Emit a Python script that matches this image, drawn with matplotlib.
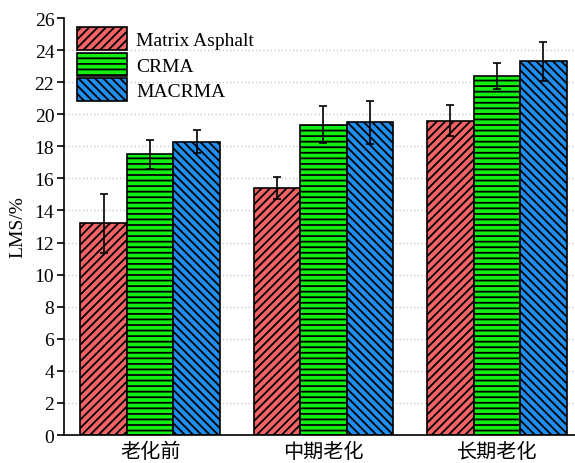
import numpy as np
import matplotlib.pyplot as plt

plt.rcParams['font.family'] = ['Liberation Serif', 'Noto Sans CJK SC']
plt.rcParams['hatch.linewidth'] = 1.3

# data
stages = ['老化前', '中期老化', '长期老化']
series = ['Matrix Asphalt', 'CRMA', 'MACRMA']
lms = [
    [13.2, 15.4, 19.6],   # Matrix Asphalt
    [17.5, 19.35, 22.4],  # CRMA
    [18.3, 19.5, 23.3],   # MACRMA
]
errs = [
    [1.85, 0.7, 0.95],
    [0.9, 1.15, 0.8],
    [0.7, 1.35, 1.2],
]
colors = ['#f26464', '#11ee11', '#1e8ef0']
hatches = ['////', '---', '\\\\\\\\']

fig = plt.figure(figsize=(5.75, 4.64), dpi=100)
ax = fig.add_axes([0.1113, 0.0603, 0.8887, 0.8987])

x = np.arange(len(stages))
w = 0.268
for i, name in enumerate(series):
    ax.bar(x + (i - 1) * w, lms[i], w, color=colors[i], edgecolor='black',
           linewidth=1.2, hatch=hatches[i], label=name, zorder=2,
           yerr=errs[i], error_kw=dict(ecolor='black', elinewidth=1.2,
                                       capsize=3, capthick=1.2))

ax.set_xlim(-0.496, 2.45)
ax.set_ylim(0, 26)
ax.set_yticks(np.arange(0, 27, 2))
ax.set_xticks(x)
ax.set_xticklabels(stages, fontsize=14.5, family=['Noto Sans CJK SC'])
ax.tick_params(axis='x', length=0, pad=4)
ax.tick_params(axis='y', labelsize=14, direction='out', length=5, width=1.2, pad=2)
ax.set_ylabel('LMS/%', fontsize=14, labelpad=6)
ax.yaxis.grid(True, linestyle=':', color='#c8c8c8', linewidth=1, zorder=0)
ax.get_ygridlines()[-1].set_visible(False)
ax.set_axisbelow(True)
for s in ['top', 'right']:
    ax.spines[s].set_visible(False)
for s in ['left', 'bottom']:
    ax.spines[s].set_linewidth(1.2)

ax.legend(loc='upper left', bbox_to_anchor=(0.025, 0.978), frameon=False,
          fontsize=14, handlelength=2.6, handleheight=1.45, labelspacing=0.12,
          handletextpad=0.45, borderpad=0, borderaxespad=0)

fig.savefig('out.png', dpi=100)
